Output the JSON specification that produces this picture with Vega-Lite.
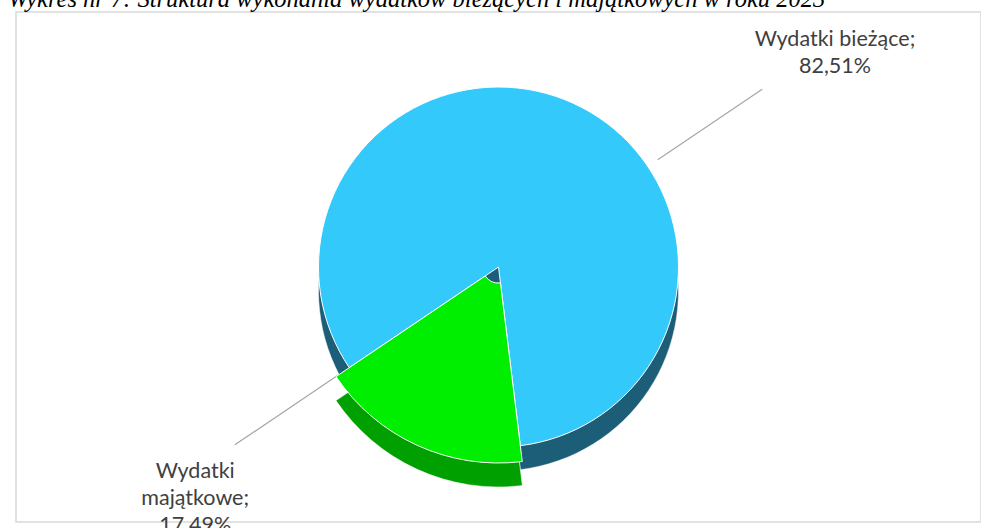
{
  "$schema": "https://vega.github.io/schema/vega-lite/v6.json",
  "width": 981,
  "height": 528,
  "autosize": {"type": "fit", "contains": "padding"},
  "padding": {"left": 8, "top": -13, "right": 0, "bottom": 0},
  "background": "#ffffff",
  "view": {"stroke": "#d9d9d9", "strokeWidth": 1.5, "fill": "#ffffff"},
  "title": {
    "text": "Wykres nr 7: Struktura wykonania wydatków bieżących i majątkowych w roku 2023",
    "font": "Liberation Serif",
    "fontStyle": "italic",
    "fontWeight": "normal",
    "fontSize": 24.5,
    "color": "#000000",
    "anchor": "start",
    "orient": "none",
    "baseline": "alphabetic",
    "dx": -8,
    "dy": -5
  },
  "data": {
    "values": [
      {"kategoria": "Wydatki bieżące", "udzial": 82.51, "etykieta": "Wydatki bieżące;\n82,51%"},
      {"kategoria": "Wydatki majątkowe", "udzial": 17.49, "etykieta": "Wydatki\nmajątkowe;\n17,49%"}
    ]
  },
  "transform": [
    {"stack": "udzial", "groupby": [], "as": ["t0", "t1"], "sort": [{"field": "kategoria", "order": "descending"}]}
  ],
  "layer": [
    {
      "mark": {"type": "arc", "radius": 318, "radius2": 192, "fill": null, "stroke": "#a6a6a6", "strokeWidth": 1.2},
      "encoding": {
        "theta": {"field": "t0", "type": "quantitative", "scale": {"domain": [0, 17.49], "range": [4.119, 7.261]}},
        "theta2": {"field": "t0"}
      }
    },
    {
      "transform": [{"filter": "datum.kategoria === 'Wydatki bieżące'"}],
      "mark": {"type": "arc", "yOffset": 24, "radius": 180, "color": "#1c5d78", "stroke": "#ffffff", "strokeWidth": 0.5},
      "encoding": {
        "theta": {"field": "t0", "type": "quantitative", "scale": {"domain": [0, 100], "range": [3.02, 9.303]}},
        "theta2": {"field": "t1"}
      }
    },
    {
      "transform": [{"filter": "datum.kategoria === 'Wydatki majątkowe'"}],
      "mark": {"type": "arc", "yOffset": 24, "radius": 196, "radius2": 16, "color": "#00a000", "stroke": "#ffffff", "strokeWidth": 0.5},
      "encoding": {
        "theta": {"field": "t0", "type": "quantitative", "scale": {"domain": [0, 100], "range": [3.02, 9.303]}},
        "theta2": {"field": "t1"}
      }
    },
    {
      "transform": [{"filter": "datum.kategoria === 'Wydatki bieżące'"}],
      "mark": {"type": "arc", "radius": 180, "color": "#33c9fb", "stroke": "#ffffff", "strokeWidth": 1},
      "encoding": {
        "theta": {"field": "t0", "type": "quantitative", "scale": {"domain": [0, 100], "range": [3.02, 9.303]}},
        "theta2": {"field": "t1"}
      }
    },
    {
      "transform": [{"filter": "datum.kategoria === 'Wydatki majątkowe'"}],
      "mark": {"type": "arc", "radius": 196, "radius2": 16, "color": "#00ee00", "stroke": "#ffffff", "strokeWidth": 1},
      "encoding": {
        "theta": {"field": "t0", "type": "quantitative", "scale": {"domain": [0, 100], "range": [3.02, 9.303]}},
        "theta2": {"field": "t1"}
      }
    },
    {
      "mark": {"type": "text", "font": "Lato", "fontSize": 21.5, "color": "#404040", "lineBreak": "\n", "lineHeight": 27, "align": "center", "baseline": "middle"},
      "encoding": {
        "theta": {"field": "udzial", "type": "quantitative", "stack": true, "scale": {"range": [3.569, 9.852]}},
        "order": {"field": "kategoria", "sort": "descending"},
        "radius": {"field": "udzial", "type": "quantitative", "scale": {"type": "linear", "zero": false, "domain": [17.49, 82.51], "range": [366, 406]}},
        "text": {"field": "etykieta", "type": "nominal"}
      }
    }
  ],
  "resolve": {"scale": {"theta": "independent", "radius": "independent"}}
}
